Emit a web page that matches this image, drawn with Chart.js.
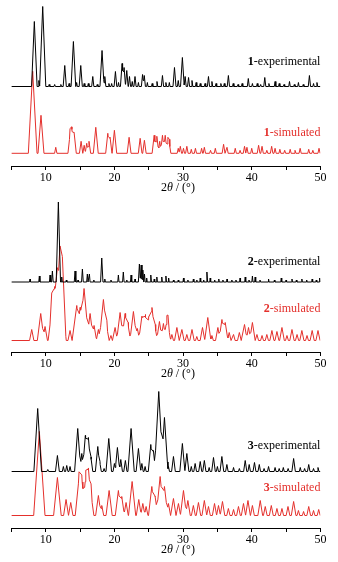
<!DOCTYPE html>
<html>
<head>
<meta charset="utf-8">
<script src="https://cdn.jsdelivr.net/npm/chart.js@4.4.1/dist/chart.umd.min.js"></script>
<style>
  html, body { margin: 0; padding: 0; background: #fff; width: 338px; height: 562px; overflow: hidden; }
  .pane { position: absolute; left: 0; width: 338px; height: 200px; }
</style>
</head>
<body>
<div class="pane" style="top:0px"><canvas id="c1" width="338" height="200"></canvas></div>
<div class="pane" style="top:186px"><canvas id="c2" width="338" height="200"></canvas></div>
<div class="pane" style="top:362px"><canvas id="c3" width="338" height="200"></canvas></div>
<script>
// ---------- data (2θ in degrees, relative intensity) ----------
const xTicks = [10, 20, 30, 40, 50];

// Compound 1
const p1ExpPos = [8.34, 9.0, 9.56, 10.5, 11.3, 12.2, 12.77, 13.4, 14.03, 14.5, 15.1, 15.6, 16.2, 16.85, 17.5, 18.2, 18.6, 19.2, 19.6, 20.15, 20.6, 21.12, 21.41, 21.8, 22.2, 22.6, 23.0, 23.5, 24.1, 24.35, 24.8, 25.5, 26.2, 27.0, 27.5, 28.0, 28.75, 29.3, 29.9, 30.3, 30.8, 31.3, 31.9, 32.5, 33.2, 33.7, 34.2, 34.8, 35.5, 36.0, 36.6, 37.3, 38.0, 38.6, 39.5, 40.1, 40.8, 41.3, 41.9, 42.5, 43.4, 44.0, 44.7, 45.5, 46.2, 46.8, 47.5, 48.4, 49.0, 49.5];
const p1ExpInt = [65, 6, 80, 2, 2, 2, 21, 3, 45, 4, 21, 3, 3, 10, 2, 36, 10, 3, 3, 15, 4, 23, 19, 16, 10, 5, 10, 4, 12, 11, 4, 3, 5, 11, 4, 4, 19, 6, 29, 10, 9, 6, 4, 3, 3, 10, 5, 3, 3, 3, 11, 3, 2, 3, 8, 3, 3, 2, 9, 3, 5, 3, 2, 5, 2, 4, 2, 11, 3, 4];
const p1SimPos = [8.1, 9.31, 11.46, 13.54, 13.79, 14.13, 15.15, 15.6, 15.97, 16.3, 17.29, 19.04, 19.37, 20.0, 22.14, 23.75, 24.37, 25.79, 26.18, 26.6, 27.0, 27.4, 27.8, 28.0, 29.3, 29.6, 30.06, 30.55, 31.2, 31.8, 32.7, 33.1, 34.0, 34.7, 35.9, 36.4, 37.6, 38.3, 38.95, 39.3, 40.0, 41.0, 41.5, 42.2, 42.9, 43.4, 44.1, 44.8, 45.6, 46.3, 47.05, 48.3, 48.9, 49.8];
const p1SimInt = [82, 38, 6, 19, 23, 21, 12, 8, 10, 12, 26, 20, 16, 23, 16, 15, 13, 18, 17, 12, 18, 18, 15, 10, 5, 7, 5, 7, 4, 5, 5, 6, 3, 5, 9, 6, 5, 3, 7, 6, 5, 8, 7, 3, 7, 5, 4, 3, 4, 3, 5, 4, 3, 5];

// Compound 2
const p2ExpPos = [7.71, 9.07, 10.63, 10.97, 11.84, 12.33, 13.0, 14.27, 14.7, 15.34, 16.06, 16.36, 17.0, 18.16, 18.6, 19.5, 20.58, 21.3, 21.8, 22.43, 23.0, 23.64, 23.9, 24.14, 24.38, 24.7, 25.3, 25.8, 26.18, 26.9, 27.5, 27.9, 28.6, 29.3, 30.06, 30.7, 31.5, 32.0, 32.5, 33.0, 33.47, 33.95, 34.6, 35.2, 35.8, 36.4, 37.1, 37.7, 38.3, 39.05, 39.6, 40.1, 40.5, 41.2, 42.45, 43.3, 44.3, 45.0, 45.86, 46.5, 47.3, 48.0, 48.8, 49.4, 49.9];
const p2ExpInt = [3, 6, 7, 11, 80, 5, 2, 11, 2, 13, 8, 8, 2, 24, 3, 2, 7, 10, 2, 7, 3, 18, 17, 12, 8, 4, 7, 3, 5, 5, 6, 4, 2, 2, 4, 2, 3, 2, 4, 2, 10, 4, 2, 3, 2, 3, 2, 2, 4, 5, 2, 6, 5, 2, 3, 2, 4, 2, 3, 2, 3, 2, 3, 2, 4];
const p2SimPos = [7.96, 9.27, 9.9, 10.87, 11.25, 11.7, 12.08, 12.42, 13.54, 14.52, 15.0, 15.58, 16.46, 17.04, 17.67, 18.4, 18.9, 19.5, 20.1, 20.83, 21.56, 22.0, 22.77, 23.35, 24.0, 24.5, 24.98, 25.47, 25.95, 26.56, 27.14, 27.64, 27.8, 28.37, 29.1, 29.83, 30.55, 31.3, 32.0, 32.83, 33.6, 34.2, 35.07, 35.66, 36.14, 36.72, 37.35, 38.2, 38.95, 39.53, 40.1, 40.76, 41.5, 42.2, 42.94, 43.67, 44.4, 45.13, 45.86, 46.6, 47.3, 48.05, 48.8, 49.65];
const p2SimInt = [11, 27, 14, 30, 44, 16, 80, 36, 10, 35, 20, 52, 27, 15, 11, 41, 13, 5, 13, 28, 27, 15, 29, 12, 24, 26, 20, 33, 12, 19, 17, 15, 17, 6, 13, 11, 6, 11, 4, 13, 23, 5, 13, 21, 18, 8, 6, 8, 16, 13, 18, 6, 5, 6, 10, 9, 13, 5, 11, 6, 10, 5, 10, 10];

// Compound 3
const p3ExpPos = [8.83, 10.3, 11.7, 12.57, 13.06, 13.54, 14.66, 15.25, 15.77, 16.21, 16.6, 17.58, 17.9, 18.5, 19.18, 20.0, 20.44, 20.93, 21.6, 22.43, 23.5, 24.0, 24.47, 25.3, 25.68, 26.46, 27.29, 27.87, 28.6, 29.9, 30.55, 31.2, 31.76, 32.5, 33.1, 33.8, 34.43, 35.0, 35.65, 36.38, 37.35, 38.2, 39.05, 39.63, 40.4, 41.1, 41.8, 42.45, 43.4, 44.0, 44.6, 45.3, 46.1, 47.07, 47.7, 48.3, 49.0, 49.65];
const p3ExpInt = [63, 2, 16, 5, 6, 5, 43, 18, 36, 34, 13, 25, 8, 3, 33, 8, 24, 12, 11, 43, 23, 8, 5, 27, 21, 80, 54, 5, 15, 28, 18, 5, 8, 10, 11, 4, 14, 5, 15, 7, 4, 3, 11, 7, 9, 7, 3, 5, 4, 3, 4, 3, 13, 4, 3, 7, 3, 4];
const p3SimPos = [9.07, 11.7, 12.96, 13.64, 14.85, 15.25, 15.83, 16.21, 16.6, 17.67, 18.16, 19.23, 20.58, 21.07, 21.7, 22.58, 23.55, 24.14, 24.62, 25.45, 25.93, 26.66, 27.29, 27.87, 28.6, 29.33, 30.06, 30.7, 31.5, 32.24, 33.1, 33.7, 34.58, 35.16, 35.74, 36.6, 37.35, 38.07, 38.8, 39.45, 40.1, 41.24, 41.97, 42.85, 43.67, 44.4, 45.28, 46.1, 46.8, 47.55, 48.3, 49.0, 49.75];
const p3SimInt = [84, 38, 16, 13, 38, 30, 34, 37, 21, 20, 10, 25, 25, 19, 13, 34, 16, 12, 9, 29, 19, 39, 29, 12, 17, 12, 25, 15, 10, 13, 15, 9, 12, 10, 14, 7, 6, 9, 12, 15, 10, 15, 9, 10, 7, 7, 9, 14, 5, 4, 9, 5, 6];

// ---------- building line points from the peak lists ----------
function profile(pos, ints, w0, base) {
  const peaks = pos.map((p, i) => ({ p, h: ints[i], w: w0 * Math.sqrt(Math.max(ints[i], 4) / 4) }));
  let bps = [5, 50];
  peaks.forEach(k => { bps.push(k.p - k.w, k.p, k.p + k.w); });
  bps = bps.filter(x => x >= 5 && x <= 50).sort((a, b) => a - b);
  return bps.map(x => {
    let y = base;
    peaks.forEach(k => { const d = Math.abs(x - k.p); if (d < k.w) y += k.h * (1 - d / k.w); });
    return { x, y };
  });
}

const RED = '#e4302c';
const SERIF = '"Liberation Serif", "Times New Roman", serif';

const panels = [
  { id: 'c1', num: '1', exp: [p1ExpPos, p1ExpInt, 0.10, 79.5], sim: [p1SimPos, p1SimInt, 0.14, 12.7], expLab: 104, simLab: 33 },
  { id: 'c2', num: '2', exp: [p2ExpPos, p2ExpInt, 0.07, 70], sim: [p2SimPos, p2SimInt, 0.19, 11.5], expLab: 90, simLab: 43 },
  { id: 'c3', num: '3', exp: [p3ExpPos, p3ExpInt, 0.14, 56.5], sim: [p3SimPos, p3SimInt, 0.18, 12.5], expLab: 82.5, simLab: 40 }
];

const labelPlugin = {
  id: 'labels',
  afterDraw(chart) {
    const o = chart.options.plugins.labels;
    const ctx = chart.ctx, ca = chart.chartArea, ys = chart.scales.y;
    ctx.save();
    ctx.textBaseline = 'middle';
    function rightText(y, num, rest, color) {
      ctx.fillStyle = color;
      ctx.font = '12px ' + SERIF;
      const wr = ctx.measureText(rest).width;
      ctx.textAlign = 'right';
      ctx.fillText(rest, ca.right, y);
      ctx.font = 'bold 12px ' + SERIF;
      ctx.fillText(num, ca.right - wr, y);
    }
    rightText(ys.getPixelForValue(o.expLab), o.num, '-experimental', '#000');
    rightText(ys.getPixelForValue(o.simLab), o.num, '-simulated', RED);
    // axis title: 2θ / (°)
    const parts = [['2', ''], ['\u03B8', 'italic '], [' / (\u00B0)', '']];
    let total = 0;
    parts.forEach(p => { ctx.font = p[1] + '12px ' + SERIF; total += ctx.measureText(p[0]).width; });
    let x = (ca.left + ca.right) / 2 + 12 - total / 2;
    const ty = ca.bottom + 22;
    ctx.fillStyle = '#000';
    ctx.textAlign = 'left';
    parts.forEach(p => { ctx.font = p[1] + '12px ' + SERIF; ctx.fillText(p[0], x, ty); x += ctx.measureText(p[0]).width; });
    ctx.restore();
  }
};

panels.forEach(pn => {
  const expPts = profile(...pn.exp);
  const simPts = profile(...pn.sim);
  new Chart(document.getElementById(pn.id), {
    type: 'line',
    data: {
      datasets: [
        { label: pn.num + '-experimental', data: expPts, borderColor: '#000', borderWidth: 1, pointRadius: 0, tension: 0, fill: false },
        { label: pn.num + '-simulated', data: simPts, borderColor: RED, borderWidth: 1, pointRadius: 0, tension: 0, fill: false }
      ]
    },
    options: {
      responsive: false,
      animation: false,
      devicePixelRatio: 1,
      layout: { padding: { left: 11.4, right: 17.6, top: 0, bottom: 0 } },
      plugins: {
        legend: { display: false },
        tooltip: { enabled: false },
        labels: { num: pn.num, expLab: pn.expLab, simLab: pn.simLab }
      },
      scales: {
        x: {
          type: 'linear', min: 5, max: 50,
          afterBuildTicks(scale) { scale.ticks = [5, 10, 15, 20, 25, 30, 35, 40, 45, 50].map(v => ({ value: v })); },
          afterFit(scale) { scale.height = 34; },
          ticks: {
            autoSkip: false, maxRotation: 0, padding: 1, color: '#000',
            font: { family: SERIF, size: 12 },
            callback: v => (xTicks.includes(v) ? String(v) : '')
          },
          grid: { drawOnChartArea: false, drawTicks: true, tickLength: 4, color: '#000' },
          border: { display: true, color: '#000', width: 1 }
        },
        y: { display: false, min: 0, max: 166 }
      }
    },
    plugins: [labelPlugin]
  });
});
</script>
</body>
</html>
